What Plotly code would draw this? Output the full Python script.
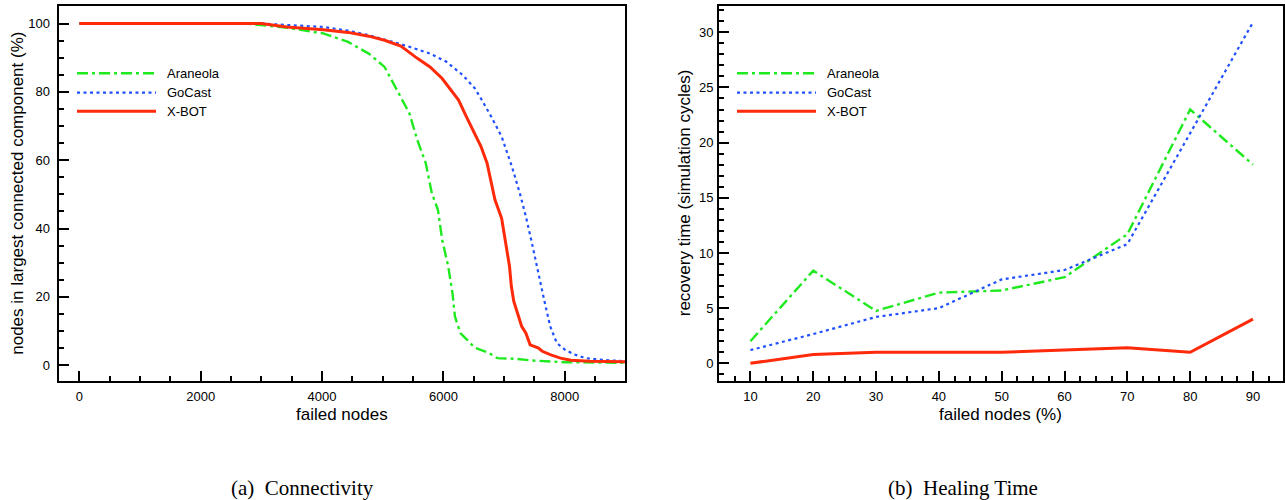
import plotly.graph_objects as go

W, H = 1285, 500

# ---------------- data: (a) Connectivity ----------------
conn_araneola_x = [0, 1000, 2000, 2740, 3400, 4020, 4430, 4770, 5030, 5240, 5440, 5570, 5710, 5810, 5910,
                   5980, 6080, 6150, 6190, 6280, 6380, 6520, 6750, 6890, 7190, 7460, 8000, 9000]
conn_araneola_y = [100, 100, 100, 100, 98.8, 97.1, 94.6, 91.2, 87.3, 80.5, 73.7, 65.9, 59.1, 50.3, 45.5,
                   36.7, 28.9, 21.1, 14.3, 9.4, 7.5, 5.1, 3.6, 2.1, 1.9, 1.4, 0.9, 0.7]

conn_gocast_x = [0, 1000, 2000, 3000, 3690, 4020, 4430, 4770, 5170, 5440, 5780, 6050, 6320, 6520, 6650,
                 6790, 6960, 7130, 7260, 7360, 7460, 7560, 7660, 7760, 7870, 8000, 8140, 8340, 8670, 9000]
conn_gocast_y = [100, 100, 100, 100, 99.3, 99.0, 97.9, 96.6, 94.6, 93.2, 91.2, 88.8, 84.9, 81.0, 77.1,
                 72.7, 66.9, 58.1, 50.3, 43.5, 35.7, 27.0, 19.2, 11.4, 6.5, 4.6, 3.3, 2.1, 1.5, 1.2]

conn_xbot_x = [0, 1000, 2000, 3000, 3420, 4020, 4430, 4770, 5030, 5300, 5570, 5780, 5980, 6110, 6250,
               6380, 6520, 6620, 6720, 6790, 6850, 6960, 7020, 7090, 7120, 7160, 7230, 7290, 7360, 7430,
               7560, 7630, 7760, 7930, 8100, 8410, 9000]
conn_xbot_y = [100, 100, 100, 100, 99.0, 98.2, 97.4, 96.3, 95.1, 93.4, 89.8, 87.3, 83.9, 81.0, 77.6,
               72.7, 67.9, 64.0, 59.1, 53.7, 48.4, 43.0, 36.7, 28.9, 23.1, 18.7, 14.8, 11.4, 9.4, 6.0,
               5.1, 4.1, 3.1, 2.1, 1.5, 1.2, 1.0]

# ---------------- data: (b) Healing Time ----------------
heal_x = [10, 20, 30, 40, 50, 60, 70, 80, 90]
heal_araneola = [2.0, 8.4, 4.75, 6.4, 6.6, 7.8, 11.7, 23.0, 18.0]
heal_gocast = [1.2, 2.65, 4.2, 5.0, 7.6, 8.45, 10.8, 20.8, 30.9]
heal_xbot = [0.0, 0.8, 1.0, 1.0, 1.0, 1.2, 1.4, 1.0, 4.0]

series_names = ["Araneola", "GoCast", "X-BOT"]
series_colors = ["#1fea1f", "#2150ff", "#ff2a0a"]
series_dash = ["11px,4px,3px,4px", "3px,3.5px", "solid"]
series_width = [2.4, 2.2, 3]

left_xticks = [0, 2000, 4000, 6000, 8000]
left_yticks = [0, 20, 40, 60, 80, 100]
right_xticks = [10, 20, 30, 40, 50, 60, 70, 80, 90]
right_yticks = [0, 5, 10, 15, 20, 25, 30]

captions = ["(a)\u00a0\u00a0Connectivity", "(b)\u00a0\u00a0Healing Time"]
x_titles = ["failed nodes", "failed nodes (%)"]
y_titles = ["nodes in largest connected component (%)", "recovery time (simulation cycles)"]

FONT = "Liberation Sans, Arial, Helvetica, sans-serif"


def fx(px):
    return px / W


def fy(py):
    return 1 - py / H


fig = go.Figure()

conn = [(conn_araneola_x, conn_araneola_y), (conn_gocast_x, conn_gocast_y), (conn_xbot_x, conn_xbot_y)]
heal = [heal_araneola, heal_gocast, heal_xbot]

for i, name in enumerate(series_names):
    fig.add_trace(go.Scatter(
        x=conn[i][0], y=conn[i][1], mode="lines", name=name, showlegend=False,
        line=dict(color=series_colors[i], width=series_width[i], dash=series_dash[i]),
        xaxis="x", yaxis="y"))
for i, name in enumerate(series_names):
    fig.add_trace(go.Scatter(
        x=heal_x, y=heal[i], mode="lines", name=name, showlegend=False,
        line=dict(color=series_colors[i], width=series_width[i], dash=series_dash[i]),
        xaxis="x2", yaxis="y2"))

# plot area pixel boxes (page pixels)
L = dict(x0=58.5, x1=625, y0=6, y1=380.5)
R = dict(x0=719, x1=1282.5, y0=6, y1=380.5)

axis_common = dict(showline=True, linecolor="black", linewidth=2, mirror=True,
                   showgrid=False, zeroline=False, ticks="inside", ticklen=10, tickwidth=1.5,
                   tickcolor="black", tickfont=dict(family=FONT, size=13, color="black"))

fig.update_layout(
    width=W, height=H,
    margin=dict(l=0, r=0, t=0, b=0),
    paper_bgcolor="white", plot_bgcolor="white",
    showlegend=False,
    xaxis=dict(domain=[fx(L["x0"]), fx(L["x1"])], range=[-343, 8993], tickvals=left_xticks,
               minor=dict(ticks="inside", ticklen=5, tickwidth=1.5, dtick=500, tick0=0, tickcolor="black"),
               anchor="y", ticklabelstandoff=3, **axis_common),
    yaxis=dict(domain=[fy(L["y1"]), fy(L["y0"])], range=[-4.45, 105.12], tickvals=left_yticks,
               minor=dict(ticks="inside", ticklen=5, tickwidth=1.5, dtick=5, tick0=0, tickcolor="black"),
               anchor="x", ticklabelstandoff=4, **axis_common),
    xaxis2=dict(domain=[fx(R["x0"]), fx(R["x1"])], range=[5, 94.7], tickvals=right_xticks,
                minor=dict(ticks="inside", ticklen=5, tickwidth=1.5, dtick=2.5, tick0=0, tickcolor="black"),
                anchor="y2", ticklabelstandoff=3, **axis_common),
    yaxis2=dict(domain=[fy(R["y1"]), fy(R["y0"])], range=[-1.56, 32.38], tickvals=right_yticks,
                minor=dict(ticks="inside", ticklen=5, tickwidth=1.5, dtick=1, tick0=0, tickcolor="black"),
                anchor="x2", ticklabelstandoff=1, **axis_common),
)

annotations = []
shapes = []

# axis titles
for box, xt, yt, ytx in [(L, x_titles[0], y_titles[0], 17.5), (R, x_titles[1], y_titles[1], 684)]:
    annotations.append(dict(x=fx((box["x0"] + box["x1"]) / 2), y=fy(414), xref="paper", yref="paper",
                            text=xt, showarrow=False, xanchor="center", yanchor="middle",
                            font=dict(family=FONT, size=17, color="black")))
    annotations.append(dict(x=fx(ytx), y=fy((box["y0"] + box["y1"]) / 2), xref="paper", yref="paper",
                            text=yt, showarrow=False, xanchor="center", yanchor="middle", textangle=-90,
                            font=dict(family=FONT, size=17, color="black")))

# captions
for cx, cap in [(229, captions[0]), (886, captions[1])]:
    annotations.append(dict(x=fx(cx), y=fy(488), xref="paper", yref="paper", text=cap, showarrow=False,
                            xanchor="left", yanchor="middle",
                            font=dict(family="Liberation Serif, Times New Roman, serif", size=21, color="black")))

# manual legends
legend_rows = [73.3, 92.7, 111.3]
for lx0, lx1, tx in [(77, 156, 165), (737, 816, 825)]:
    for i, name in enumerate(series_names):
        yy = legend_rows[i]
        shapes.append(dict(type="line", xref="paper", yref="paper", x0=fx(lx0), x1=fx(lx1),
                           y0=fy(yy), y1=fy(yy),
                           line=dict(color=series_colors[i], width=series_width[i], dash=series_dash[i])))
        annotations.append(dict(x=fx(tx), y=fy(yy), xref="paper", yref="paper", text=name, showarrow=False,
                                xanchor="left", yanchor="middle",
                                font=dict(family=FONT, size=13, color="black")))

fig.update_layout(annotations=annotations, shapes=shapes)

# remove the default 8px page margin so the figure sits at the window's top-left corner
fig.write_html("out.html", config={"displayModeBar": False},
               post_script="document.body.style.margin='0px';document.body.style.overflow='hidden';")
